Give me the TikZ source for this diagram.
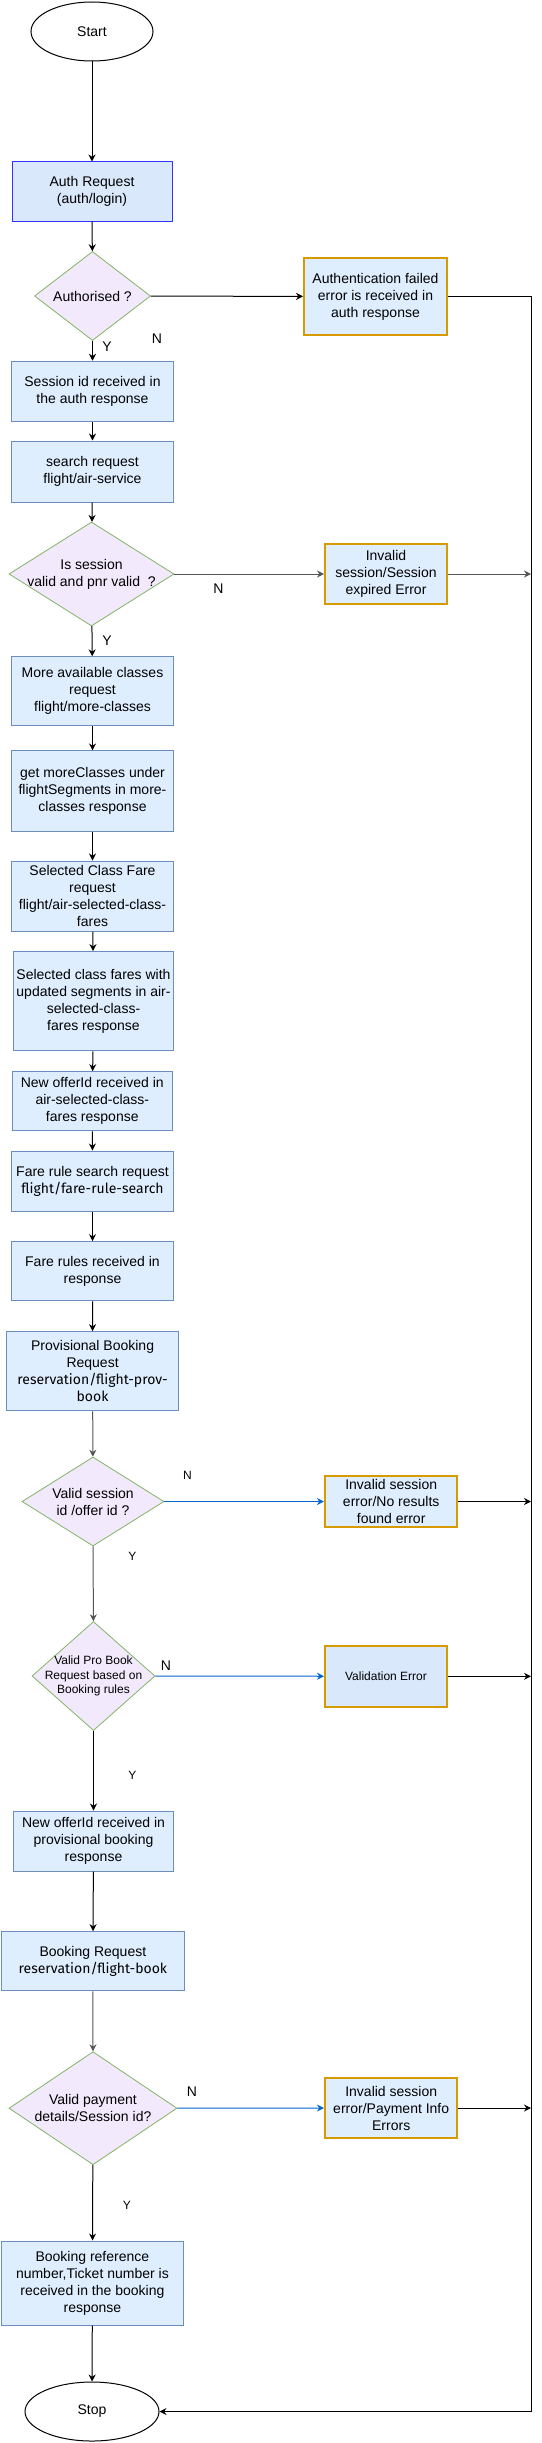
\documentclass[tikz,border=0pt]{standalone}
\usepackage{fontspec}
\setmainfont{Liberation Sans}
\newfontfamily\urlFont{Fira Sans}
\usetikzlibrary{shapes.geometric,arrows.meta}
\def \startStr {Start}
\def \authRequestStr {Auth Request\\(auth/login)}
\def \authorisedStr {Authorised ?}
\def \authFailedStr {Authentication failed\\error is received in\\auth response}
\def \sessionIdStr {Session id received in\\the auth response}
\def \searchRequestStr {search request\\flight/air-service}
\def \sessionValidStr {Is session\\valid and pnr valid\ \ ?}
\def \sessionExpiredStr {Invalid\\session/Session\\expired Error}
\def \moreClassesRequestStr {More available classes\\request\\flight/more-classes}
\def \moreClassesResponseStr {get moreClasses under\\flightSegments in more-\\classes response}
\def \classFareRequestStr {Selected Class Fare\\request\\flight/air-selected-class-\\fares}
\def \classFareResponseStr {Selected class fares with\\updated segments in air-\\selected-class-\\fares response}
\def \offerIdStr {New offerId received in\\air-selected-class-\\fares response}
\def \fareRuleRequestStr {Fare rule search request\\{\urlFont flight/fare-rule-search}}
\def \fareRuleResponseStr {Fare rules received in\\response}
\def \provBookRequestStr {Provisional Booking\\Request\\{\urlFont reservation/flight-prov-}\\{\urlFont book}}
\def \offerValidStr {Valid session\\id /offer id ?}
\def \noResultsStr {Invalid session\\error/No results\\found error}
\def \provBookValidStr {Valid Pro Book\\Request based on\\Booking rules}
\def \validationErrorStr {Validation Error}
\def \provOfferIdStr {New offerId received in\\provisional booking\\response}
\def \bookRequestStr {Booking Request\\{\urlFont reservation/flight-book}}
\def \paymentValidStr {Valid payment\\details/Session id?}
\def \paymentErrorStr {Invalid session\\error/Payment Info\\Errors}
\def \bookingRefStr {Booking reference\\number,Ticket number is\\received in the booking\\response}
\def \stopStr {Stop}
\def \yesStr {Y}
\def \noStr {N}

\begin{document}
\begin{tikzpicture}[x=1pt, y=-1pt,
  mytext/.style={font=\fontsize{14}{17}\selectfont, text=black, align=center},
  smalltext/.style={font=\fontsize{12}{14.5}\selectfont, text=black, align=center},
  terminal/.style={ellipse, draw=black, line width=1pt, inner sep=0pt, mytext},
  process/.style={rectangle, draw=boxline, fill=boxfill, line width=1pt, inner sep=0pt, mytext},
  failure/.style={process, draw=errorline, line width=2pt},
  decision/.style={diamond, draw=decisionline, fill=decisionfill, line width=0.8pt, inner sep=0pt},
  flow/.style={-{Stealth[length=7pt,width=7pt]}, line width=1pt},
  noflow/.style={flow, draw=nobranch}]


\definecolor{boxfill}{HTML}{DFEEFF}
\definecolor{boxline}{HTML}{6C8EBF}
\definecolor{authfill}{HTML}{DAE8FC}
\definecolor{authline}{HTML}{3333FF}
\definecolor{errorline}{HTML}{D79B00}
\definecolor{decisionfill}{HTML}{F2EAFC}
\definecolor{decisionline}{HTML}{82B366}
\definecolor{nobranch}{HTML}{0066CC}
\definecolor{greyline}{HTML}{555555}


\useasboundingbox (0,0) rectangle (541,2443);


\node[terminal, minimum width=122, minimum height=59] (start) at (92,31.5) {\startStr};
\node[process, draw=authline, fill=authfill, minimum width=160, minimum height=59] (authRequest) at (92,191.5) {\authRequestStr};
\node[decision, minimum width=116, minimum height=89, label={[mytext]center:\authorisedStr}] (authorised) at (92.5,296) {};
\node[failure, minimum width=143, minimum height=77] (authFailed) at (375.5,296.5) {\authFailedStr};

\node[process, minimum width=162, minimum height=60.5] (sessionId) at (92.5,391.5) {\sessionIdStr};
\node[process, minimum width=162, minimum height=61] (searchRequest) at (92.5,471.5) {\searchRequestStr};
\node[decision, minimum width=165, minimum height=104, label={[mytext]center:\sessionValidStr}] (sessionValid) at (91.5,574) {};
\node[failure, minimum width=122, minimum height=60] (sessionExpired) at (386,574) {\sessionExpiredStr};

\node[process, minimum width=162, minimum height=69] (moreClassesRequest) at (92.5,691.3) {\moreClassesRequestStr};
\node[process, minimum width=162, minimum height=80.7] (moreClassesResponse) at (92.5,791.3) {\moreClassesResponseStr};
\node[process, minimum width=162, minimum height=70] (classFareRequest) at (92.5,896) {\classFareRequestStr};
\node[process, minimum width=160, minimum height=99.3] (classFareResponse) at (93.5,1001.3) {\classFareResponseStr};
\node[process, minimum width=159.5, minimum height=59.3] (offerId) at (92.3,1101.3) {\offerIdStr};
\node[process, minimum width=162, minimum height=60] (fareRuleRequest) at (92.5,1181) {\fareRuleRequestStr};
\node[process, minimum width=162, minimum height=59.3] (fareRuleResponse) at (92.5,1271.3) {\fareRuleResponseStr};
\node[process, minimum width=172, minimum height=79.3] (provBookRequest) at (92.6,1371.3) {\provBookRequestStr};

\node[decision, minimum width=142, minimum height=89, label={[mytext]center:\offerValidStr}] (offerValid) at (93,1501.5) {};
\node[failure, minimum width=132.5, minimum height=51] (noResults) at (391.2,1501.5) {\noResultsStr};

\node[decision, minimum width=123, minimum height=109, label={[smalltext]center:\provBookValidStr}] (provBookValid) at (93.5,1676) {};
\node[failure, fill=authfill, smalltext, minimum width=122, minimum height=60.7] (validationError) at (386,1676.3) {\validationErrorStr};

\node[process, minimum width=160, minimum height=60] (provOfferId) at (93.5,1841) {\provOfferIdStr};
\node[process, minimum width=182.3, minimum height=59.3] (bookRequest) at (92.9,1961.3) {\bookRequestStr};

\node[decision, minimum width=168, minimum height=113, label={[mytext]center:\paymentValidStr}] (paymentValid) at (93,2108.2) {};
\node[failure, minimum width=132.5, minimum height=60] (paymentError) at (391.2,2108) {\paymentErrorStr};

\node[process, minimum width=181.3, minimum height=84] (bookingRef) at (92.4,2283) {\bookingRefStr};
\node[terminal, minimum width=134, minimum height=59] (stop) at (92,2411.5) {\stopStr};

\coordinate (railTop) at (531,296.5);
\coordinate (railBottom) at (531,2411.5);


\node[mytext] (yesAuth) at (107,347) {\yesStr};
\node[mytext] (noAuth) at (157,339) {\noStr};
\node[mytext] (noSession) at (218.5,589) {\noStr};
\node[mytext] (yesSession) at (107,641) {\yesStr};
\node[smalltext] (noOffer) at (187.5,1475) {\noStr};
\node[smalltext] (yesOffer) at (132.4,1556) {\yesStr};
\node[mytext] (noProvBook) at (166,1666) {\noStr};
\node[smalltext] (yesProvBook) at (132.4,1775) {\yesStr};
\node[mytext] (noPayment) at (192,2092) {\noStr};
\node[smalltext] (yesPayment) at (127,2205) {\yesStr};


\draw[flow] (start) -- (authRequest);
\draw[flow] (authRequest) -- (authorised);
\draw[flow] (authorised) -- (sessionId);
\draw[flow] (authorised) -- (authFailed);
\draw[flow] (authFailed.east) -- (railTop) -- (railBottom) -- (stop.east);

\draw[flow] (sessionId) -- (searchRequest);
\draw[flow] (searchRequest) -- (sessionValid);
\draw[flow, draw=greyline] (sessionValid) -- (sessionExpired);
\draw[flow, draw=greyline] (sessionExpired.east) -- (sessionExpired.east -| railTop);
\draw[flow] (sessionValid) -- (moreClassesRequest);

\draw[flow] (moreClassesRequest) -- (moreClassesResponse);
\draw[flow] (moreClassesResponse) -- (classFareRequest);
\draw[flow] (classFareRequest) -- (classFareResponse);
\draw[flow] (classFareResponse) -- (offerId);
\draw[flow] (offerId) -- (fareRuleRequest);
\draw[flow] (fareRuleRequest) -- (fareRuleResponse);
\draw[flow] (fareRuleResponse) -- (provBookRequest);
\draw[flow, draw=greyline] (provBookRequest) -- (offerValid);

\draw[noflow] (offerValid) -- (noResults);
\draw[flow] (noResults.east) -- (noResults.east -| railTop);
\draw[flow, draw=greyline] (offerValid) -- (provBookValid);

\draw[noflow] (provBookValid) -- (validationError);
\draw[flow] (validationError.east) -- (validationError.east -| railTop);
\draw[flow] (provBookValid) -- (provOfferId);

\draw[flow] (provOfferId) -- (bookRequest);
\draw[flow, draw=greyline] (bookRequest) -- (paymentValid);

\draw[noflow] (paymentValid) -- (paymentError);
\draw[flow] (paymentError.east) -- (paymentError.east -| railTop);
\draw[flow] (paymentValid) -- (bookingRef);
\draw[flow] (bookingRef) -- (stop);


\end{tikzpicture}
\end{document}
